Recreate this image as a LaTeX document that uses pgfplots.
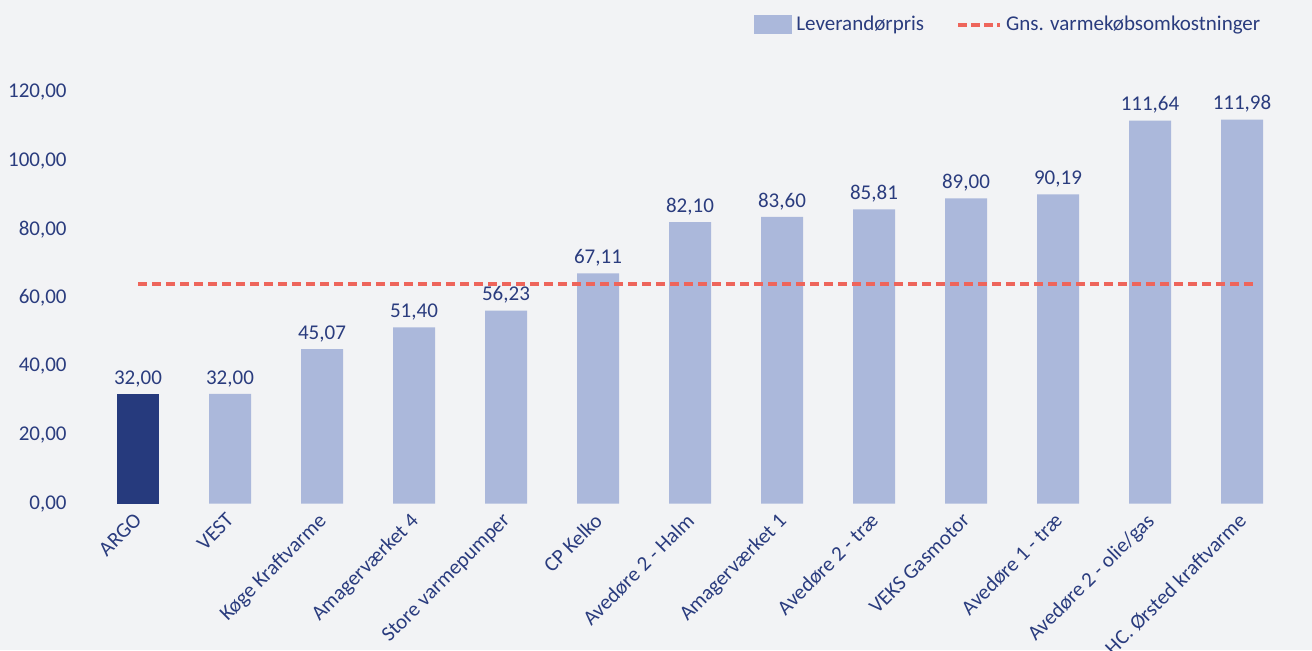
\documentclass[border=0pt]{standalone}
\usepackage{pgfplots}
\pgfplotsset{compat=1.18}
\usepackage{fontspec}
\setmainfont{Carlito}
\definecolor{bg}{HTML}{F2F3F5}
\definecolor{navy}{HTML}{2A3C7E}
\definecolor{bardark}{HTML}{263A7D}
\definecolor{barlight}{HTML}{ABB8DB}
\definecolor{redline}{HTML}{EE655B}
\begin{document}
\begin{tikzpicture}[x=1pt,y=1pt,font=\fontsize{10.5}{12}\selectfont]
\fill[bg] (0,0) rectangle (656,325);
\path[use as bounding box] (0,0) rectangle (656,325);
\begin{axis}[
  at={(46pt,73.2pt)}, anchor=south west,
  scale only axis, width=598pt, height=205.8pt,
  xmin=-0.5, xmax=12.5, ymin=0, ymax=120,
  axis line style={draw=none}, tick style={draw=none},
  clip=false,
  /pgf/number format/assume math mode=true,
  ytick={0,20,...,120},
  yticklabel style={anchor=east, inner sep=0pt, xshift=-12.5pt, text=navy,
    font=\fontsize{10.5}{12}\selectfont,
    /pgf/number format/.cd, fixed, fixed zerofill, precision=2, use comma, 1000 sep={}},
  xtick={0,...,12},
  xticklabels={ARGO, VEST, Køge Kraftvarme, Amagerværket 4, Store varmepumper, CP Kelko, Avedøre 2 - Halm, Amagerværket 1, Avedøre 2 - træ, VEKS Gasmotor, Avedøre 1 - træ, Avedøre 2 - olie/gas, HC. Ørsted kraftvarme},
  xticklabel style={rotate=45, anchor=north east, inner sep=1pt, xshift=-3.5pt, text=navy,
    font=\fontsize{10.5}{12}\selectfont},
  legend style={at={(0.5535,1.1628)}, anchor=west, draw=none, fill=none,
    legend columns=-1, inner sep=0pt, text=navy,
    font=\fontsize{10.5}{12}\selectfont,
    /tikz/every even column/.append style={column sep=14pt}},
  legend cell align=left,
  nodes near coords style={text=navy, font=\fontsize{10.5}{12}\selectfont, anchor=south},
]
\addplot[ybar, bar width=21pt, bar shift=0pt, fill=bardark, draw=none, forget plot,
  nodes near coords={\pgfmathprintnumber[fixed,fixed zerofill,precision=2,use comma]{\pgfplotspointmeta}}]
  coordinates {(0,32.00)};
\addplot[ybar, bar width=21pt, bar shift=0pt, fill=barlight, draw=none,
  nodes near coords={\pgfmathprintnumber[fixed,fixed zerofill,precision=2,use comma]{\pgfplotspointmeta}},
  legend image code/.code={\fill[barlight] (0pt,-4.75pt) rectangle (19pt,4.75pt);}]
  coordinates {(1,32.00) (2,45.07) (3,51.40) (4,56.23) (5,67.11) (6,82.10) (7,83.60) (8,85.81) (9,89.00) (10,90.19) (11,111.64) (12,111.98)};
\addlegendentry{Leverandørpris}
\addplot[redline, line width=2pt, dash pattern=on 4.5pt off 2.5pt,
  legend image code/.code={\draw[redline, line width=2pt, dash pattern=on 4.5pt off 2pt] (0pt,0pt) -- (21pt,0pt);}]
  coordinates {(0,64) (12.13,64)};
\addlegendentry{Gns. varmekøbsomkostninger}
\end{axis}
\end{tikzpicture}
\end{document}
